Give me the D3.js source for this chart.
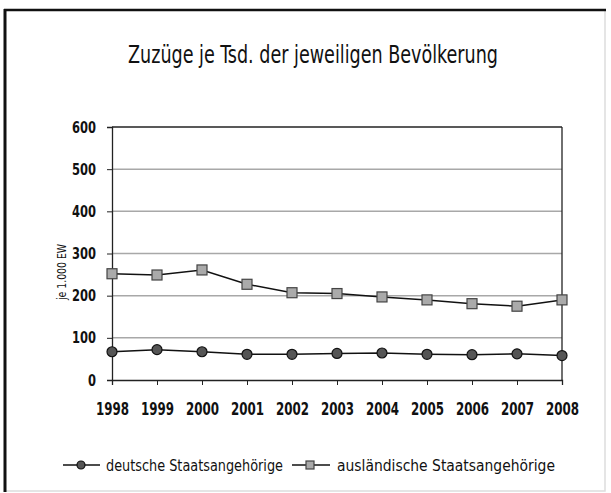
<!DOCTYPE html>
<html>
<head>
<meta charset="utf-8">
<script src="https://cdn.jsdelivr.net/npm/d3@7"></script>
<style>
  body { margin: 0; background: #fff; }
  text { font-family: "DejaVu Sans Condensed", "Liberation Sans Narrow", "DejaVu Sans", sans-serif; font-stretch: condensed; fill: #111; }
</style>
</head>
<body>
<div id="chart"></div>
<script>
const years = ["1998", "1999", "2000", "2001", "2002", "2003", "2004", "2005", "2006", "2007", "2008"];
const deutsche = [67, 72, 67, 61, 61, 63, 64, 61, 60, 62, 58];
const auslaendische = [252, 249, 261, 227, 207, 205, 197, 190, 181, 175, 190];
const yTicks = [0, 100, 200, 300, 400, 500, 600];

const W = 611, H = 493;
const margin = { top: 127, right: 49, bottom: 113, left: 112 };
const width = W - margin.left - margin.right;
const height = H - margin.top - margin.bottom;

const svg = d3.select("#chart").append("svg")
  .attr("width", W)
  .attr("height", H);

// rahmen: links/oben kräftig, rechts/unten blass (Scan)
svg.append("rect").attr("x", 5).attr("y", 10).attr("width", 600).attr("height", 481)
  .attr("fill", "none").attr("stroke", "#ddd").attr("stroke-width", 1.5);
svg.append("line").attr("x1", 5).attr("x2", 5).attr("y1", 9).attr("y2", 492)
  .attr("stroke", "#111").attr("stroke-width", 3);
svg.append("line").attr("x1", 4).attr("x2", 606).attr("y1", 10).attr("y2", 10)
  .attr("stroke", "#111").attr("stroke-width", 2.5);

svg.append("text")
  .attr("x", 128).attr("y", 63)
  .attr("font-size", "24px")
  .attr("textLength", 370).attr("lengthAdjust", "spacingAndGlyphs")
  .text("Zuzüge je Tsd. der jeweiligen Bevölkerung");

const g = svg.append("g").attr("transform", `translate(${margin.left},${margin.top})`);

const x = d3.scalePoint().domain(years).range([0, width]);
const y = d3.scaleLinear().domain([0, 600]).range([height, 0]);

// gitterlinien
g.selectAll(".grid").data(yTicks.filter(d => d > 0 && d < 600)).enter()
  .append("line")
  .attr("x1", 0).attr("x2", width)
  .attr("y1", d => y(d)).attr("y2", d => y(d))
  .attr("stroke", "#a8a8a8").attr("stroke-width", 1.5);

g.append("line").attr("x1", 0).attr("x2", width).attr("y1", 0).attr("y2", 0)
  .attr("stroke", "#222").attr("stroke-width", 1.3);
g.append("line").attr("x1", width).attr("x2", width).attr("y1", 0).attr("y2", height)
  .attr("stroke", "#222").attr("stroke-width", 1.3);

const yAxis = g.append("g")
  .call(d3.axisLeft(y).tickValues(yTicks).tickSize(5).tickPadding(11));
yAxis.select(".domain").attr("stroke", "#222").attr("stroke-width", 1.3);
yAxis.selectAll(".tick line").attr("stroke", "#222");
yAxis.selectAll("text")
  .attr("font-size", "16px").attr("font-weight", "bold")
  .attr("textLength", d => String(d).length * 8).attr("lengthAdjust", "spacingAndGlyphs");

const xAxis = g.append("g")
  .attr("transform", `translate(0,${height})`)
  .call(d3.axisBottom(x).tickSize(5).tickPadding(17));
xAxis.select(".domain").attr("stroke", "#222").attr("stroke-width", 1.3);
xAxis.selectAll(".tick line").attr("stroke", "#222");
xAxis.selectAll("text")
  .attr("font-size", "18px").attr("font-weight", "bold")
  .attr("textLength", 33).attr("lengthAdjust", "spacingAndGlyphs");

svg.append("text")
  .attr("transform", "translate(66,272) rotate(-90)")
  .attr("text-anchor", "middle")
  .attr("font-size", "12px")
  .attr("textLength", 56).attr("lengthAdjust", "spacingAndGlyphs")
  .text("je 1.000 EW");

const line = d3.line().x((d, i) => x(years[i])).y(d => y(d));

g.append("path").datum(auslaendische).attr("d", line)
  .attr("fill", "none").attr("stroke", "#111").attr("stroke-width", 1.5);
g.append("path").datum(deutsche).attr("d", line)
  .attr("fill", "none").attr("stroke", "#111").attr("stroke-width", 1.5);

g.selectAll(".sq").data(auslaendische).enter().append("rect")
  .attr("x", (d, i) => x(years[i]) - 5)
  .attr("y", d => y(d) - 5)
  .attr("width", 10).attr("height", 10)
  .attr("fill", "#aaa").attr("stroke", "#444").attr("stroke-width", 1.2);

g.selectAll(".dot").data(deutsche).enter().append("circle")
  .attr("cx", (d, i) => x(years[i]))
  .attr("cy", d => y(d))
  .attr("r", 5)
  .attr("fill", "#555").attr("stroke", "#111").attr("stroke-width", 1.2);

// legende
const ly = 465;
const leg = svg.append("g");
leg.append("line").attr("x1", 63).attr("x2", 100).attr("y1", ly).attr("y2", ly)
  .attr("stroke", "#111").attr("stroke-width", 1.5);
leg.append("circle").attr("cx", 81).attr("cy", ly).attr("r", 4)
  .attr("fill", "#555").attr("stroke", "#111").attr("stroke-width", 1.2);
leg.append("text").attr("x", 106).attr("y", ly + 6).attr("font-size", "16px")
  .attr("textLength", 177).attr("lengthAdjust", "spacingAndGlyphs")
  .text("deutsche Staatsangehörige");
leg.append("line").attr("x1", 292).attr("x2", 330).attr("y1", ly).attr("y2", ly)
  .attr("stroke", "#111").attr("stroke-width", 1.5);
leg.append("rect").attr("x", 306).attr("y", ly - 4).attr("width", 8).attr("height", 8)
  .attr("fill", "#aaa").attr("stroke", "#444").attr("stroke-width", 1.2);
leg.append("text").attr("x", 337).attr("y", ly + 6).attr("font-size", "16px")
  .attr("textLength", 218).attr("lengthAdjust", "spacingAndGlyphs")
  .text("ausländische Staatsangehörige");
</script>
</body>
</html>
